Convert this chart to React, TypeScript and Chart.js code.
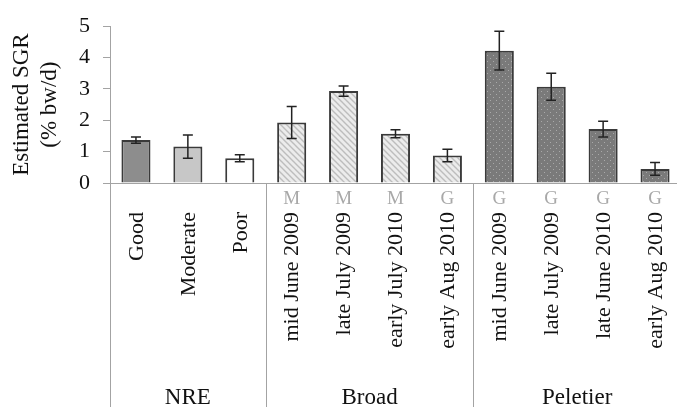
import React, { useEffect, useRef } from "react";
import { Chart, registerables } from "chart.js";

Chart.register(...registerables);

const categories = [
  "Good", "Moderate", "Poor",
  "mid June 2009", "late July 2009", "early July 2010", "early Aug 2010",
  "mid June 2009", "late July 2009", "late June 2010", "early Aug 2010",
];
const sgrValues = [1.37, 1.16, 0.79, 1.93, 2.93, 1.57, 0.88, 4.22, 3.07, 1.72, 0.45];
const sgrErrors = [0.10, 0.37, 0.11, 0.51, 0.16, 0.13, 0.20, 0.62, 0.43, 0.25, 0.20];
const codeLetters = ["", "", "", "M", "M", "M", "G", "G", "G", "G", "G"];
const groupNames = ["NRE", "Broad", "Peletier"];
const groupSizes = [3, 4, 4];
const yTicks = [0, 1, 2, 3, 4, 5];
const yTitle = ["Estimated SGR", "(% bw/d)"];

const SERIF = "'Liberation Serif', 'Times New Roman', serif";
const TEXT = "#111111";
const AXIS = "#a3a3a3";

function hatchPattern(): CanvasPattern | string {
  const c = document.createElement("canvas");
  c.width = 6; c.height = 6;
  const g = c.getContext("2d");
  if (!g) return "#e0e0e0";
  g.fillStyle = "#ececec";
  g.fillRect(0, 0, 6, 6);
  g.strokeStyle = "#bdbdbd";
  g.lineWidth = 1.4;
  g.beginPath();
  g.moveTo(-1, -1); g.lineTo(7, 7);
  g.moveTo(-4, 2); g.lineTo(4, 10);
  g.moveTo(2, -4); g.lineTo(10, 4);
  g.stroke();
  return g.createPattern(c, "repeat") || "#e0e0e0";
}

function dotPattern(): CanvasPattern | string {
  const c = document.createElement("canvas");
  c.width = 6; c.height = 6;
  const g = c.getContext("2d");
  if (!g) return "#7f7f7f";
  g.fillStyle = "#7a7a7a";
  g.fillRect(0, 0, 6, 6);
  g.fillStyle = "#a9a9a9";
  g.fillRect(1, 1, 1, 1);
  g.fillRect(4, 4, 1, 1);
  return g.createPattern(c, "repeat") || "#7f7f7f";
}

export default function App() {
  const ref = useRef<HTMLCanvasElement>(null);

  useEffect(() => {
    const canvas = ref.current;
    if (!canvas) return;
    const hatch = hatchPattern();
    const dots = dotPattern();
    const fills = categories.map((_, i) => {
      if (i === 0) return "#8d8d8d";
      if (i === 1) return "#c7c7c7";
      if (i === 2) return "#ffffff";
      if (i < 7) return hatch;
      return dots;
    });

    const overlay = {
      id: "overlay",
      afterDatasetsDraw(chart: any) {
        const ctx = chart.ctx;
        const xs = chart.scales.x;
        const ys = chart.scales.y;
        ctx.save();
        ctx.strokeStyle = "#222222";
        ctx.lineWidth = 1.5;
        sgrValues.forEach((v, i) => {
          const x = xs.getPixelForValue(i);
          const top = ys.getPixelForValue(v + sgrErrors[i]);
          const bot = ys.getPixelForValue(v - sgrErrors[i]);
          ctx.beginPath();
          ctx.moveTo(x, top); ctx.lineTo(x, bot);
          ctx.moveTo(x - 5, top); ctx.lineTo(x + 5, top);
          ctx.moveTo(x - 5, bot); ctx.lineTo(x + 5, bot);
          ctx.stroke();
        });
        ctx.restore();
      },
      afterDraw(chart: any) {
        const ctx = chart.ctx;
        const xs = chart.scales.x;
        const area = chart.chartArea;
        const H = chart.height;
        ctx.save();
        // category labels
        ctx.fillStyle = TEXT;
        ctx.font = `22px ${SERIF}`;
        categories.forEach((lab, i) => {
          const x = xs.getPixelForValue(i);
          ctx.save();
          ctx.translate(x + 1, area.bottom + 29);
          ctx.rotate(-Math.PI / 2);
          ctx.textAlign = "right";
          ctx.textBaseline = "middle";
          ctx.fillText(lab, 0, 0);
          ctx.restore();
        });
        // code letters
        ctx.fillStyle = "#a8a8a8";
        ctx.font = `19px ${SERIF}`;
        ctx.textAlign = "center";
        ctx.textBaseline = "alphabetic";
        codeLetters.forEach((c, i) => {
          if (!c) return;
          ctx.fillText(c, xs.getPixelForValue(i), area.bottom + 21);
        });
        // separators
        ctx.strokeStyle = AXIS;
        ctx.lineWidth = 1;
        let idx = 0;
        const bounds: number[] = [area.left];
        groupSizes.forEach((n) => {
          idx += n;
          const xb = idx < categories.length
            ? (xs.getPixelForValue(idx - 1) + xs.getPixelForValue(idx)) / 2
            : area.right;
          bounds.push(xb);
        });
        bounds.forEach((xb) => {
          const px = Math.round(xb) + 0.5;
          ctx.beginPath();
          ctx.moveTo(px, area.bottom);
          ctx.lineTo(px, H);
          ctx.stroke();
        });
        // group labels
        ctx.fillStyle = TEXT;
        ctx.font = `23px ${SERIF}`;
        ctx.textAlign = "center";
        ctx.textBaseline = "alphabetic";
        groupNames.forEach((g, k) => {
          ctx.fillText(g, (bounds[k] + bounds[k + 1]) / 2, H - 3);
        });
        // y title
        ctx.font = `23px ${SERIF}`;
        const cy = (area.top + area.bottom) / 2;
        yTitle.forEach((t, k) => {
          ctx.save();
          ctx.translate(k === 0 ? 22 : 50, cy);
          ctx.rotate(-Math.PI / 2);
          ctx.textAlign = "center";
          ctx.textBaseline = "middle";
          ctx.fillText(t, 0, 0);
          ctx.restore();
        });
        ctx.restore();
      },
    };

    const chart = new Chart(canvas, {
      type: "bar",
      data: {
        labels: categories,
        datasets: [
          {
            data: sgrValues,
            backgroundColor: fills as any,
            borderColor: "#3a3a3a",
            borderWidth: 2,
            barPercentage: 0.56,
            categoryPercentage: 1,
          },
        ],
      },
      options: {
        responsive: false,
        animation: false,
        devicePixelRatio: 1,
        layout: { padding: { top: 22, left: 0, right: 0, bottom: 0 } },
        plugins: {
          legend: { display: false },
          tooltip: { enabled: false },
          title: { display: false },
        },
        scales: {
          x: {
            type: "category",
            offset: true,
            ticks: { display: false },
            grid: { display: false },
            border: { display: true, color: AXIS, width: 1 },
            afterFit(scale: any) {
              scale.height = 224;
            },
          },
          y: {
            min: yTicks[0],
            max: yTicks[yTicks.length - 1],
            afterBuildTicks(scale: any) {
              scale.ticks = yTicks.map((v) => ({ value: v }));
            },
            ticks: {
              color: TEXT,
              font: { family: SERIF, size: 22 },
              padding: 13,
            },
            grid: {
              display: true,
              drawOnChartArea: false,
              drawTicks: true,
              tickLength: 7,
              color: AXIS,
            },
            border: { display: true, color: AXIS, width: 1 },
            afterFit(scale: any) {
              scale.width = 110;
            },
          },
        },
      },
      plugins: [overlay],
    });
    return () => chart.destroy();
  }, []);

  return (
    <div style={{ position: "fixed", left: 0, top: 0, width: 677, height: 407, overflow: "hidden", background: "#fff" }}>
      <canvas ref={ref} width={681} height={407} style={{ width: 681, height: 407, display: "block" }} />
    </div>
  );
}
